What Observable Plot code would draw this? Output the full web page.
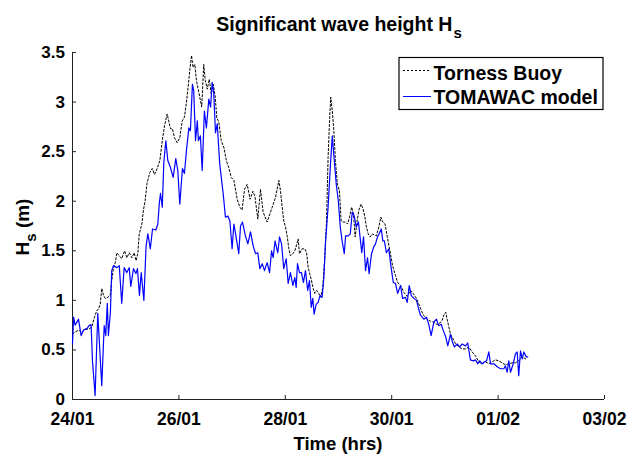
<!DOCTYPE html>
<html>
<head>
<meta charset="utf-8">
<script src="https://cdn.jsdelivr.net/npm/d3@7"></script>
<script src="https://cdn.jsdelivr.net/npm/@observablehq/plot@0.6"></script>
<style>
  body { margin: 0; background: #fff; }
  #chart { width: 630px; height: 454px; }
  #chart svg { display: block; }
</style>
</head>
<body>
<div id="chart"></div>
<script>
// ---- data (hours since 24/01 00:00) ----
const startMs = Date.UTC(2011, 0, 24);

const buoyHours = [0.0,1.2,2.7,4.2,5.7,7.2,8.7,9.9,11.0,11.7,
  12.5,13.2,14.0,14.8,15.9,17.0,17.7,18.5,19.3,20.0,
  21.1,22.2,23.5,24.5,25.6,26.8,27.8,28.7,29.5,30.1,
  31.3,32.0,32.8,33.6,34.9,36.0,37.0,38.2,39.4,40.5,
  41.5,42.7,43.4,44.2,45.1,46.0,47.2,48.4,49.5,50.5,
  51.4,52.3,52.9,53.7,54.4,55.2,55.9,56.7,57.4,58.3,
  59.2,59.9,60.8,61.7,62.6,63.5,64.4,65.1,66.0,67.1,
  68.3,69.5,70.5,71.6,72.8,74.3,75.5,76.5,77.6,78.8,
  80.1,81.4,82.3,83.6,84.8,86.0,87.8,89.0,90.1,91.6,
  93.1,93.8,94.6,95.3,96.1,96.9,97.6,98.3,99.4,100.3,
  101.2,101.8,102.4,103.6,104.8,105.6,106.3,107.0,107.8,108.6,
  109.3,110.2,111.1,112.0,112.9,113.8,114.6,115.3,116.1,116.5,
  117.2,117.9,118.6,119.5,120.4,121.2,122.1,123.2,124.1,125.0,
  125.9,126.8,127.5,128.4,129.3,130.2,131.1,131.9,132.6,133.4,
  134.3,135.2,136.2,137.1,138.2,139.1,140.0,141.0,142.0,143.2,
  144.4,145.7,146.7,148.0,149.5,151.0,152.5,154.0,155.4,156.8,
  158.3,160.0,161.5,163.0,164.5,165.7,166.8,167.5,168.4,169.0,
  169.8,170.5,171.7,172.8,174.3,175.8,177.3,178.8,180.3,181.8,
  183.3,184.8,186.3,187.8,189.3,190.8,192.3,193.8,195.3,196.8,
  198.4,199.8,201.3,202.9,204.4];
const buoyHs = [0.66,0.68,0.70,0.68,0.71,0.71,0.73,0.83,0.90,0.91,
  0.96,1.12,1.05,1.02,1.03,1.05,1.20,1.33,1.38,1.48,
  1.45,1.42,1.50,1.43,1.48,1.43,1.48,1.40,1.48,1.67,
  1.77,1.91,2.01,2.18,2.29,2.33,2.27,2.33,2.41,2.61,
  2.76,2.88,2.81,2.73,2.73,2.64,2.59,2.64,2.81,2.85,
  3.00,3.18,3.32,3.47,3.35,3.38,3.22,3.13,3.05,2.95,
  3.38,3.22,3.13,3.23,3.08,3.18,3.05,2.84,2.80,2.61,
  2.54,2.40,2.34,2.24,2.21,2.02,1.94,1.91,2.12,2.17,
  2.02,2.10,2.05,1.82,2.12,1.89,1.79,1.87,1.94,2.04,
  2.21,2.11,1.94,1.80,1.74,1.64,1.52,1.45,1.47,1.50,
  1.57,1.62,1.47,1.52,1.52,1.48,1.33,1.27,1.20,1.12,
  1.07,1.10,1.07,1.03,1.13,1.43,1.80,2.44,2.88,3.05,
  2.91,2.71,2.41,2.17,2.11,1.80,1.79,1.79,1.77,1.84,
  1.94,1.87,1.64,1.80,1.92,1.97,1.92,1.84,1.74,1.67,
  1.64,1.67,1.66,1.65,1.74,1.84,1.79,1.77,1.64,1.50,
  1.35,1.25,1.18,1.15,1.08,1.04,1.10,1.06,1.01,0.93,
  0.85,0.81,0.79,0.78,0.755,0.77,0.80,0.85,0.88,0.81,
  0.73,0.66,0.61,0.56,0.53,0.51,0.51,0.53,0.48,0.44,
  0.38,0.36,0.38,0.36,0.38,0.40,0.39,0.37,0.35,0.36,
  0.37,0.37,0.39,0.43,0.41];

const modelHours = [0,0.5,1.2,2.7,3.9,5.0,6.5,7.5,8.4,9.0,
  10.2,11.4,13.2,14.3,15.0,15.7,16.2,17.1,17.7,18.5,
  20.0,21.1,22.2,23.3,24.5,25.6,26.3,27.5,28.6,29.3,
  30.2,31.0,32.2,33.2,34.0,35.1,36.1,37.6,38.5,39.2,
  39.7,40.5,41.2,42.1,43.0,44.2,45.4,46.6,47.5,48.4,
  49.6,50.5,51.4,52.5,53.2,54.1,54.7,55.5,56.3,56.8,
  57.7,58.5,59.5,60.4,61.5,62.3,63.0,63.7,64.5,65.3,
  66.4,68.0,69.0,70.1,71.0,72.0,72.8,73.8,75.0,75.8,
  76.7,78.0,79.1,80.3,81.5,82.6,83.6,84.5,85.6,86.6,
  87.8,88.9,89.8,90.5,91.4,92.6,93.4,94.3,95.3,96.4,
  97.3,98.3,99.4,100.3,100.9,101.5,102.4,103.3,104.2,105.1,
  106.1,106.9,107.7,108.4,109.0,109.9,110.8,111.7,112.6,113.4,
  114.1,115.3,116.4,117.2,118.1,119.0,119.9,120.8,121.7,122.6,
  123.2,124.4,125.3,126.2,127.1,128.0,129.0,130.5,131.3,132.2,
  133.1,133.8,134.9,135.9,136.7,137.6,138.3,139.3,140.0,140.7,
  141.6,142.7,143.5,144.7,145.7,146.7,148.0,148.9,150.2,151.0,
  151.9,152.8,154.0,155.2,156.2,157.0,158.5,159.7,160.7,161.8,
  163.0,164.2,165.2,166.3,167.2,168.4,169.3,170.5,171.4,172.3,
  173.5,174.7,175.8,177.3,178.3,179.5,180.8,181.8,182.8,183.7,
  184.8,185.9,186.8,187.8,188.6,190.1,191.6,193.1,194.6,195.3,
  196.1,196.8,197.6,198.8,199.8,200.6,201.3,202.1,202.9,203.6,
  204.7,205.4];
const modelHs = [0.56,0.83,0.75,0.81,0.645,0.70,0.715,0.745,0.755,0.39,
  0.04,0.87,0.14,0.745,0.645,0.97,0.645,0.88,1.30,1.35,
  1.33,1.35,0.97,1.33,1.28,1.33,1.14,1.32,1.27,1.32,
  1.05,1.28,1.00,1.55,1.67,1.52,1.72,1.71,1.77,1.99,
  2.08,1.94,2.39,2.61,2.41,2.34,2.24,2.43,2.31,1.97,
  2.33,2.28,2.51,2.74,2.71,3.18,3.11,2.61,2.81,2.61,
  2.66,2.31,2.91,2.74,3.03,2.95,3.20,3.10,2.69,2.78,
  2.38,2.07,1.84,1.85,1.80,1.52,1.77,1.64,1.47,1.75,
  1.79,1.65,1.57,1.69,1.55,1.47,1.48,1.32,1.37,1.30,
  1.38,1.28,1.50,1.43,1.60,1.48,1.64,1.57,1.32,1.42,
  1.17,1.28,1.15,1.23,1.13,1.37,1.28,1.28,1.18,1.30,
  1.10,1.20,0.93,1.02,0.86,0.96,0.98,1.05,1.03,1.23,
  1.57,1.94,2.38,2.66,2.41,2.17,2.01,1.74,1.59,1.47,
  1.65,1.65,1.67,1.89,1.85,1.74,1.79,1.48,1.64,1.30,
  1.43,1.27,1.47,1.54,1.57,1.64,1.67,1.72,1.60,1.60,
  1.48,1.52,1.37,1.18,1.17,1.07,1.15,1.02,1.03,0.98,
  1.15,1.05,1.02,1.00,0.91,0.85,0.81,0.83,0.76,0.645,
  0.78,0.81,0.745,0.76,0.70,0.63,0.54,0.66,0.58,0.53,
  0.56,0.53,0.56,0.54,0.57,0.40,0.39,0.40,0.36,0.39,
  0.36,0.38,0.39,0.48,0.36,0.36,0.33,0.31,0.31,0.34,
  0.275,0.39,0.275,0.36,0.46,0.48,0.24,0.49,0.41,0.48,
  0.43,0.43];

const xTickDays = [0, 2, 4, 6, 8, 10];
const xTickLabels = ["24/01", "26/01", "28/01", "30/01", "01/02", "03/02"];
const yTicks = [0, 0.5, 1, 1.5, 2, 2.5, 3, 3.5];
const yTickLabels = ["0", "0.5", "1", "1.5", "2", "2.5", "3", "3.5"];
const seriesNames = ["Torness Buoy", "TOMAWAC model"];

// ---- build tables ----
const toDate = h => new Date(startMs + h * 3600e3);
const buoy = buoyHours.map((h, i) => ({t: toDate(h), v: buoyHs[i]}));
const model = modelHours.map((h, i) => ({t: toDate(h), v: modelHs[i]}));
const xTicks = xTickDays.map(d => new Date(startMs + d * 864e5));

const FONT = '"Liberation Sans", Arial, Helvetica, sans-serif';
const W = 630, H = 454;
const mL = 72, mR = 26, mT = 52, mB = 55;

const chart = Plot.plot({
  width: W, height: H,
  marginLeft: mL, marginRight: mR, marginTop: mT, marginBottom: mB,
  style: {fontFamily: FONT, background: "white", color: "#000", overflow: "visible"},
  x: {type: "utc", domain: [xTicks[0], xTicks[xTicks.length - 1]]},
  y: {domain: [0, 3.5]},
  marks: [
    Plot.axisY(yTicks, {
      tickSize: -4, tickPadding: 11.5, fontSize: 17,
      tickFormat: d => yTickLabels[yTicks.indexOf(d)], label: null, stroke: "#222"
    }),
    Plot.axisX(xTicks, {
      tickSize: -4, tickPadding: 17, fontSize: 17.5,
      tickFormat: d => xTickLabels[xTicks.findIndex(t => +t === +d)], label: null, stroke: "#222"
    }),
    Plot.ruleY([0], {stroke: "#222", strokeWidth: 1}),
    Plot.ruleX([xTicks[0]], {stroke: "#222", strokeWidth: 1}),
    Plot.line(buoy, {x: "t", y: "v", stroke: "#000", strokeWidth: 1, strokeDasharray: "2,2"}),
    Plot.line(model, {x: "t", y: "v", stroke: "#0000ff", strokeWidth: 1.2})
  ]
});
document.getElementById("chart").appendChild(chart);

// ---- text annotations ----
const svg = d3.select(chart);
svg.selectAll('g[aria-label$="tick label"] text').style("font-weight", "bold");
svg.selectAll('g[aria-label$="tick label"]').style("font-weight", "bold");
const cx = mL + (W - mL - mR) / 2;

// title
const title = svg.append("text")
  .attr("x", cx + 1).attr("y", 30.5)
  .attr("text-anchor", "middle")
  .style("font-family", FONT).style("font-weight", "bold").style("font-size", "19.5px").attr("fill", "#000");
title.append("tspan").text("Significant wave height H");
title.append("tspan").attr("dy", 7).attr("dx", 1).style("font-size", "15px").text("s");

// x label
svg.append("text")
  .attr("x", cx).attr("y", 450)
  .attr("text-anchor", "middle")
  .style("font-family", FONT).style("font-weight", "bold").style("font-size", "18.5px").attr("fill", "#000")
  .text("Time (hrs)");

// y label
const yl = svg.append("text")
  .attr("transform", "translate(28.5,227) rotate(-90)")
  .attr("text-anchor", "middle")
  .style("font-family", FONT).style("font-weight", "bold").style("font-size", "19px").attr("fill", "#000");
yl.append("tspan").text("H");
yl.append("tspan").attr("dy", 7).style("font-size", "15px").text("s");
yl.append("tspan").attr("dy", -7).text(" (m)");

// legend
const lg = svg.append("g").attr("text-anchor", "start");
lg.append("rect").attr("x", 399).attr("y", 57.5).attr("width", 204).attr("height", 52)
  .attr("fill", "white").attr("stroke", "#000").attr("stroke-width", 1.2);
const rows = [
  {y: 70.5, stroke: "#000", dash: "2,2", ty: 79.5},
  {y: 96.5, stroke: "#0000ff", dash: "none", ty: 104}
];
rows.forEach((r, i) => {
  lg.append("path").attr("d", `M403,${r.y}H431`)
    .attr("fill", "none").attr("stroke", r.stroke).attr("stroke-width", 1).attr("stroke-dasharray", r.dash);
  lg.append("text").attr("x", 433.5).attr("y", r.ty).attr("text-anchor", "start")
    .style("font-family", FONT).style("font-weight", "bold").style("font-size", "19.5px").attr("fill", "#000")
    .text(seriesNames[i]);
});
</script>
</body>
</html>
